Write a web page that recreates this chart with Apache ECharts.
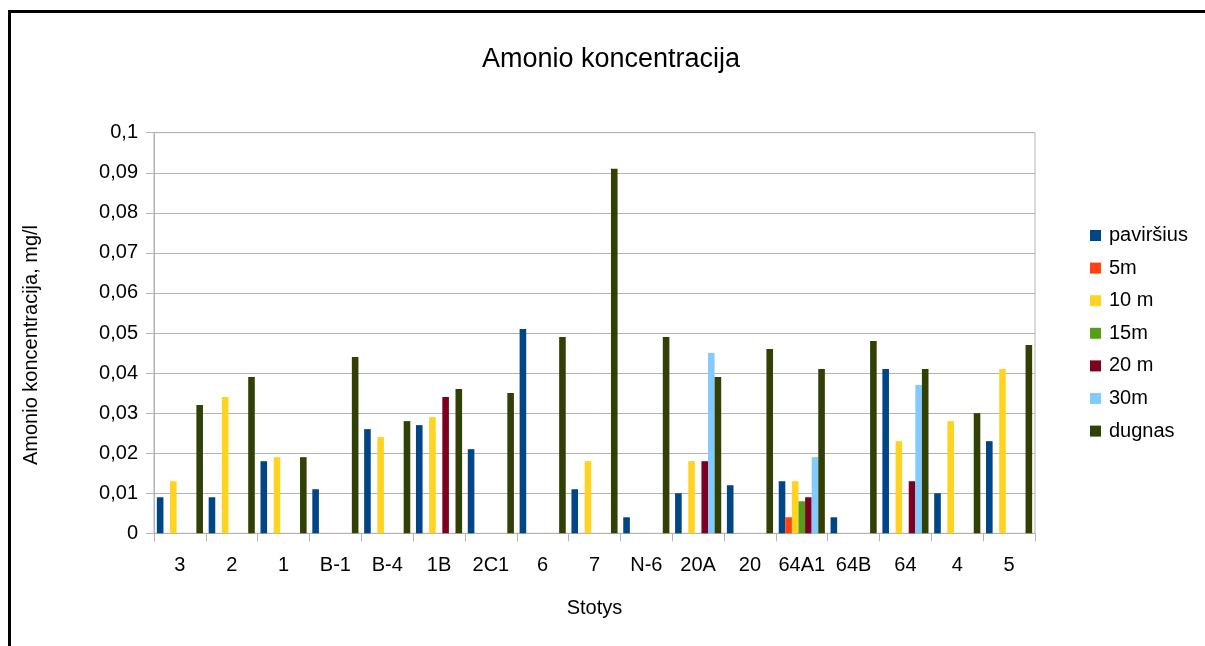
<!DOCTYPE html>
<html>
<head>
<meta charset="utf-8">
<script src="https://cdn.jsdelivr.net/npm/echarts@6/dist/echarts.min.js"></script>
<style>
html,body{margin:0;padding:0;background:#fff;}
#chart{width:1205px;height:646px;}
</style>
</head>
<body>
<div id="chart"></div>
<script>
var categories = ['3','2','1','B-1','B-4','1B','2C1','6','7','N-6','20A','20','64A1','64B','64','4','5'];
var seriesNames = ['paviršius','5m','10 m','15m','20 m','30m','dugnas'];
var pavirsius = [0.009,0.009,0.018,0.011,0.026,0.027,0.021,0.051,0.011,0.004,0.010,0.012,0.013,0.004,0.041,0.010,0.023];
var m5 =        [null,null,null,null,null,null,null,null,null,null,null,null,0.004,null,null,null,null];
var m10 =       [0.013,0.034,0.019,null,0.024,0.029,null,null,0.018,null,0.018,null,0.013,null,0.023,0.028,0.041];
var m15 =       [null,null,null,null,null,null,null,null,null,null,null,null,0.008,null,null,null,null];
var m20 =       [null,null,null,null,null,0.034,null,null,null,null,0.018,null,0.009,null,0.013,null,null];
var m30 =       [null,null,null,null,null,null,null,null,null,null,0.045,null,0.019,null,0.037,null,null];
var dugnas =    [0.032,0.039,0.019,0.044,0.028,0.036,0.035,0.049,0.091,0.049,0.039,0.046,0.041,0.048,0.041,0.030,0.047];
var yTickLabels = ['0','0,01','0,02','0,03','0,04','0,05','0,06','0,07','0,08','0,09','0,1'];

var colors = ['#004586','#ff420e','#ffd320','#579d1c','#7e0021','#83caff','#314004'];
var dataSets = [pavirsius,m5,m10,m15,m20,m30,dugnas];
var FONT = 'Liberation Sans';

var series = dataSets.map(function(d,i){
  return {
    name: seriesNames[i],
    type: 'bar',
    data: d,
    barGap: '0%',
    barCategoryGap: '11%',
    itemStyle: {color: colors[i]},
    emphasis: {disabled: true}
  };
});

var chart = echarts.init(document.getElementById('chart'), null, {renderer:'canvas'});
chart.setOption({
  animation: false,
  color: colors,
  textStyle: {fontFamily: FONT, color: '#000'},
  title: {
    text: 'Amonio koncentracija',
    left: 482,
    top: 46,
    padding: 0,
    textStyle: {fontFamily: FONT, fontSize: 27, fontWeight: 'normal', color: '#000'}
  },
  graphic: [{
    type: 'rect',
    shape: {x: 9.5, y: 11.5, width: 1400, height: 1000},
    style: {fill: 'none', stroke: '#000', lineWidth: 3},
    silent: true
  }],
  legend: {
    orient: 'vertical',
    left: 1090,
    top: 225.5,
    padding: 0,
    itemWidth: 11,
    itemHeight: 11,
    itemGap: 12.6,
    icon: 'rect',
    data: seriesNames,
    textStyle: {fontFamily: FONT, fontSize: 20, color: '#000', padding: [0,0,0,3]}
  },
  grid: {
    left: 154,
    right: 170,
    top: 132.7,
    bottom: 112.7,
    show: true,
    borderColor: '#b3b3b3',
    borderWidth: 1,
    containLabel: false
  },
  xAxis: {
    type: 'category',
    data: categories,
    name: 'Stotys',
    nameLocation: 'middle',
    nameGap: 65,
    nameTextStyle: {fontFamily: FONT, fontSize: 20, color: '#000'},
    axisLine: {lineStyle: {color: '#b3b3b3'}},
    axisTick: {show: true, length: 8, lineStyle: {color: '#b3b3b3'}, alignWithLabel: false},
    axisLabel: {fontFamily: FONT, fontSize: 20, color: '#000', margin: 22, interval: 0}
  },
  yAxis: {
    type: 'value',
    min: 0,
    max: 0.1,
    interval: 0.01,
    name: 'Amonio koncentracija, mg/l',
    nameLocation: 'middle',
    nameGap: 113,
    nameRotate: 90,
    nameTextStyle: {fontFamily: FONT, fontSize: 20, color: '#000', padding: [0, 24, 0, 0]},
    axisLine: {show: true, lineStyle: {color: '#b3b3b3'}},
    axisTick: {show: true, length: 8, lineStyle: {color: '#b3b3b3'}},
    splitLine: {show: true, lineStyle: {color: '#b3b3b3', width: 1}},
    axisLabel: {
      fontFamily: FONT, fontSize: 20, color: '#000', margin: 16,
      formatter: function(v){ return yTickLabels[Math.round(v/0.01)]; }
    }
  },
  series: series
});
</script>
</body>
</html>
